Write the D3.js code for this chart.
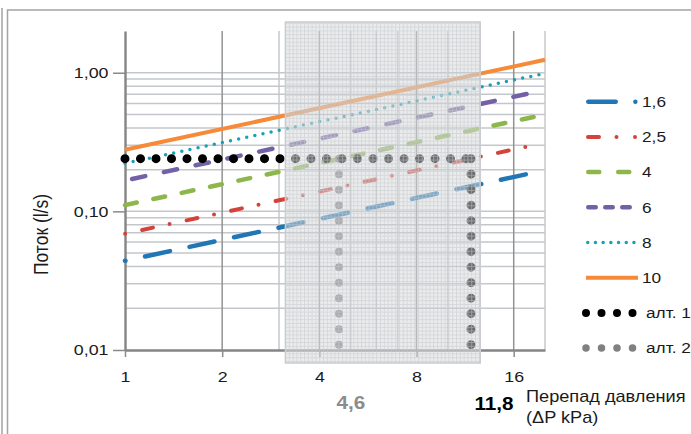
<!DOCTYPE html>
<html>
<head>
<meta charset="utf-8">
<script src="https://cdn.jsdelivr.net/npm/d3@7"></script>
<style>
  body { margin: 0; background: #fff; }
  svg { display: block; font-family: "Liberation Sans", Arial, sans-serif; }
</style>
</head>
<body>
<div id="root"></div>
<script>
// values
const pressureTicks = [1, 2, 4, 8, 16]
const pressureMinorGrid = [3, 5, 6, 7, 10, 20]
const flowTicks = [0.01, 0.1, 1]
const flowTickLabels = ["0,01", "0,10", "1,00"]

const seriesNames = ["1,6", "2,5", "4", "6", "8", "10"]
const seriesDp = [[1, 18.4], [1, 18.4], [1, 20], [1, 20], [1, 20], [1, 20]]
const seriesFlow = [[0.044, 0.19], [0.069, 0.30], [0.111, 0.50], [0.167, 0.75], [0.222, 0.99], [0.278, 1.24]]

const altNames = ["алт. 1", "алт. 2"]
const alt1Dp = [1, 11.8, 11.8]
const alt1Flow = [0.24, 0.24, 0.01]
const alt2Dp = [1, 4.6, 4.6]
const alt2Flow = [0.24, 0.24, 0.01]

const markedDp = [4.6, 11.8]
const markedLabels = ["4,6", "11,8"]
const shadeDp = [3.14, 12.6]

// line styles
const styles = [
  { color: "#2176b5", width: 4.5, dash: "25.5 20", offset: 25, legend: "27.5 19.6 0 100" },
  { color: "#d4433b", width: 4, dash: "11 17 0 17.5", offset: 27.9, legend: "11 17.5 0 18.5 0 100" },
  { color: "#8db64b", width: 4.5, dash: "12 17", offset: 0, legend: "11 19 11 100" },
  { color: "#7460a6", width: 4.5, dash: "13.5 19", offset: 25.25, legend: "7.5 9.5 7.5 9.5 7.5 100" },
  { color: "#18a0b6", width: 3.5, dash: "0 8.3", offset: 0, legend: "0 7.7" },
  { color: "#f68a38", width: 4, dash: null, offset: 0, legend: null },
]
const altStyles = [
  { color: "#000", width: 9, legendWidth: 8 },
  { color: "#808080", width: 8, legendWidth: 7.5 },
]

const W = 691, H = 434
const plot = { left: 125, right: 545, top: 31, bottom: 350 }
const stretch = 1.15

const svg = d3.select("#root").append("svg")
  .attr("width", W)
  .attr("height", H)

// outer frame
svg.append("path")
  .attr("d", `M2,8V${H} M7.5,${H}V10H${W}`)
  .attr("fill", "none")
  .attr("stroke", "#a3a3a3")
  .attr("stroke-width", 1.5)

const xScale = d3.scaleLog().base(2)
  .domain([1, 20])
  .range([plot.left, plot.right])

const yScale = d3.scaleLog()
  .domain([0.01, 2])
  .range([plot.bottom, plot.top])

function addText(parent, x, y, str) {
  return parent.append("text")
    .attr("transform", `translate(${x},${y}) scale(${stretch},1)`)
    .text(str)
}

// grid
const grid = svg.append("g")
grid.selectAll("line.h")
  .data(yScale.ticks().filter(d => d < 1.5 && d > 0.01))
  .join("line")
  .attr("x1", plot.left).attr("x2", plot.right)
  .attr("y1", d => yScale(d)).attr("y2", d => yScale(d))
  .attr("stroke", "#c3c7cb")
  .attr("stroke-width", 1.5)
grid.selectAll("line.vm")
  .data(pressureMinorGrid)
  .join("line")
  .attr("x1", d => xScale(d)).attr("x2", d => xScale(d))
  .attr("y1", plot.top).attr("y2", plot.bottom)
  .attr("stroke", "#c6c8ca")
  .attr("stroke-width", 1.5)
const vMajor = grid.append("g")
vMajor.selectAll("line")
  .data(pressureTicks.slice(1))
  .join("line")
  .attr("x1", d => xScale(d)).attr("x2", d => xScale(d))
  .attr("y1", plot.top).attr("y2", plot.bottom)
  .attr("stroke", "#929292")
  .attr("stroke-width", 1.5)

// axes
const yAxis = svg.append("g")
  .attr("transform", `translate(${plot.left},0)`)
  .call(d3.axisLeft(yScale)
    .tickValues(flowTicks)
    .tickFormat((d, i) => flowTickLabels[i])
    .tickSize(12)
    .tickSizeOuter(0)
    .tickPadding(4.5))
const xAxis = svg.append("g")
  .attr("transform", `translate(0,${plot.bottom})`)
  .call(d3.axisBottom(xScale)
    .tickValues(pressureTicks)
    .tickFormat(d3.format("d"))
    .tickSize(7)
    .tickSizeOuter(0)
    .tickPadding(14))

for (const ax of [yAxis, xAxis]) {
  ax.attr("font-family", null).attr("font-size", 15.5)
  ax.select(".domain").attr("stroke", "#858585").attr("stroke-width", 2.4)
  ax.selectAll(".tick line").attr("stroke", "#8a8a8a").attr("stroke-width", 1.5)
  ax.selectAll(".tick text").attr("fill", "#1a1a1a")
}
yAxis.selectAll(".tick text")
  .attr("x", -16.5 / stretch)
  .attr("transform", `scale(${stretch},1)`)
xAxis.selectAll(".tick text")
  .attr("transform", `scale(${stretch},1)`)

// series
const lineGen = d3.line()
  .x(d => xScale(d[0]))
  .y(d => yScale(d[1]))

const seriesGroup = svg.append("g")
seriesNames.forEach((name, i) => {
  const st = styles[i]
  const pts = d3.zip(seriesDp[i], seriesFlow[i])
  seriesGroup.append("path")
    .attr("d", lineGen(pts))
    .attr("fill", "none")
    .attr("stroke", st.color)
    .attr("stroke-width", st.width)
    .attr("stroke-linecap", st.dash ? "round" : "butt")
    .attr("stroke-dasharray", st.dash)
    .attr("stroke-dashoffset", st.offset)
})

// alternatives: every leg starts its own dot pattern
const altGroup = svg.append("g")
const altData = [
  d3.zip(alt1Dp, alt1Flow),
  d3.zip(alt2Dp, alt2Flow),
]
;[1, 0].forEach(k => {
  d3.pairs(altData[k]).forEach(seg => {
    altGroup.append("path")
      .attr("d", lineGen(seg))
      .attr("fill", "none")
      .attr("stroke", altStyles[k].color)
      .attr("stroke-width", altStyles[k].width)
      .attr("stroke-linecap", "round")
      .attr("stroke-dasharray", "0 15.5")
  })
})

// shaded working range
const defs = svg.append("defs")
const pat = defs.append("pattern")
  .attr("id", "fine")
  .attr("patternUnits", "userSpaceOnUse")
  .attr("width", 3.8)
  .attr("height", 3.8)
pat.append("path")
  .attr("d", "M0,0.5H3.8M0.5,0V3.8")
  .attr("stroke", "#c4c7ca")
  .attr("stroke-width", 1)
  .attr("stroke-opacity", 0.55)

const shade = svg.append("g")
const sx0 = xScale(shadeDp[0]), sx1 = xScale(shadeDp[1])
const sy0 = plot.top - 9, sy1 = plot.bottom + 13
shade.append("rect")
  .attr("x", sx0).attr("y", sy0)
  .attr("width", sx1 - sx0).attr("height", sy1 - sy0)
  .attr("fill", "#d6d9dc")
  .attr("fill-opacity", 0.5)
shade.append("rect")
  .attr("x", sx0).attr("y", sy0)
  .attr("width", sx1 - sx0).attr("height", sy1 - sy0)
  .attr("fill", "url(#fine)")
  .attr("stroke", "#c9ccd0")
  .attr("stroke-width", 1.5)

// marked pressure values
const marks = svg.append("g")
  .attr("font-weight", "bold")
  .attr("font-size", 18)
  .attr("text-anchor", "middle")
addText(marks, xScale(markedDp[0]) + 12, 409, markedLabels[0]).attr("fill", "#8c8c8c")
addText(marks, xScale(markedDp[1]) + 23, 410, markedLabels[1]).attr("fill", "#000")

// axis titles
const titles = svg.append("g").attr("font-size", 15.8).attr("fill", "#1a1a1a")
addText(titles, 526, 401.5, "Перепад давления")
addText(titles, 526, 423, "(ΔP kPa)")
svg.append("text")
  .attr("transform", `translate(48,${(plot.top + plot.bottom) / 2 + 44}) scale(${stretch},1) rotate(-90)`)
  .attr("font-size", 17.5)
  .attr("fill", "#1a1a1a")
  .attr("text-anchor", "middle")
  .text("Поток (l/s)")

// legend
const legend = svg.append("g").attr("font-size", 15).attr("fill", "#1a1a1a")
const legY = i => 101.7 + i * 35.2
seriesNames.forEach((name, i) => {
  const st = styles[i]
  const y = legY(i)
  const capPad = st.dash ? st.width / 2 : 0
  legend.append("line")
    .attr("x1", 586 + capPad).attr("x2", 638 - capPad)
    .attr("y1", y).attr("y2", y)
    .attr("stroke", st.color)
    .attr("stroke-width", st.width)
    .attr("stroke-linecap", st.dash ? "round" : "butt")
    .attr("stroke-dasharray", st.legend)
  addText(legend, 642, y, name).attr("dy", "0.35em")
})
altNames.forEach((name, k) => {
  const y = legY(6 + k)
  legend.append("line")
    .attr("x1", 586).attr("x2", 634)
    .attr("y1", y).attr("y2", y)
    .attr("stroke", altStyles[k].color)
    .attr("stroke-width", altStyles[k].legendWidth)
    .attr("stroke-linecap", "round")
    .attr("stroke-dasharray", "0 15.5")
  addText(legend, 646, y, name).attr("dy", "0.35em")
})
</script>
</body>
</html>
